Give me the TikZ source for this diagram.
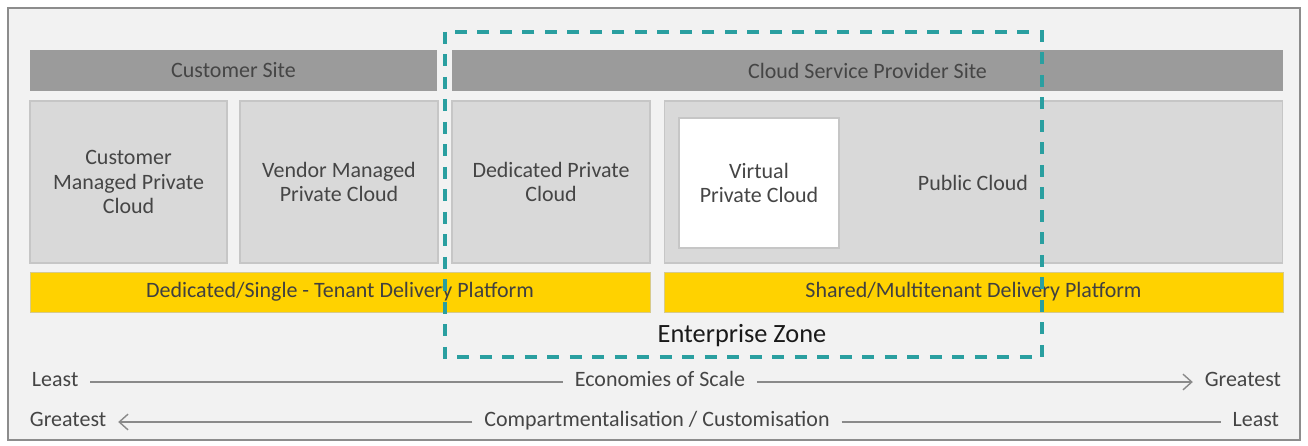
\documentclass[tikz,border=0pt]{standalone}
\usepackage{fontspec}
\setmainfont{Carlito}
\usetikzlibrary{arrows.meta}

\definecolor{framegray}{HTML}{8C8C8C}
\definecolor{paper}{HTML}{F2F2F2}
\definecolor{sitegray}{HTML}{9B9B9B}
\definecolor{boxgray}{HTML}{D9D9D9}
\definecolor{boxline}{HTML}{C6C6C6}
\definecolor{eyyellow}{HTML}{FFD200}
\definecolor{zoneteal}{HTML}{2A9FA0}
\definecolor{inktext}{HTML}{454545}
\definecolor{scaleline}{HTML}{8A8A8A}

\tikzset{
  sitebar/.style={fill=sitegray, draw=none, text=inktext, inner sep=0pt},
  cloudbox/.style={fill=boxgray, draw=boxline, line width=0.6pt, text=inktext,
    align=center, inner sep=0pt},
  vpcbox/.style={fill=white, draw=boxline, line width=0.6pt, text=inktext,
    align=center, inner sep=0pt},
  platform/.style={fill=eyyellow, draw=boxline!70!eyyellow, line width=0.5pt,
    text=black!75, inner sep=0pt},
  zone/.style={draw=zoneteal, line width=1.8pt, dash pattern=on 0.24cm off 0.21cm},
  scaletext/.style={text=inktext, inner sep=0pt, outer sep=0.24cm,
    text height=0.72em, text depth=0.22em},
  scaleaxis/.style={draw=scaleline, line width=0.8pt}
}

\begin{document}
\begin{tikzpicture}[x=0.02cm, y=-0.02cm, font=\fontsize{12.5}{14}\selectfont]

  \useasboundingbox (0,0) rectangle (1308,446);
  \draw[framegray, fill=paper, line width=0.8pt] (8,8) rectangle (1300,440);

  % site headers
  \node[sitebar, minimum width=8.14cm, minimum height=0.82cm] (custsite) at (233.5,70.5) {Customer Site};
  \node[sitebar, minimum width=16.62cm, minimum height=0.82cm] (cspsite) at (867.5,70.5) {Cloud Service Provider Site};

  % deployment models
  \node[cloudbox, minimum width=3.94cm, minimum height=3.24cm] (cmpc) at (128.5,182) {Customer\\Managed Private\\Cloud};
  \node[cloudbox, minimum width=3.96cm, minimum height=3.24cm] (vmpc) at (339,182) {Vendor Managed\\Private Cloud};
  \node[cloudbox, minimum width=3.96cm, minimum height=3.24cm] (dpc) at (551,182) {Dedicated Private\\Cloud};
  \node[cloudbox, minimum width=12.38cm, minimum height=3.24cm] (pubbox) at (973.5,182) {};
  \node[vpcbox, minimum width=3.2cm, minimum height=2.6cm] (vpc) at (759,183) {Virtual\\Private Cloud};
  \node[text=inktext] (pubc) at (973,183) {Public Cloud};

  % delivery platforms
  \node[platform, minimum width=12.4cm, minimum height=0.8cm] (dedplat) at (340,292) {Dedicated/Single - Tenant Delivery Platform};
  \node[platform, minimum width=12.38cm, minimum height=0.8cm] (shrplat) at (973.5,292) {Shared/Multitenant Delivery Platform};

  % enterprise zone
  \draw[zone] (445,32) rectangle (1042,357);
  \node[font=\fontsize{15}{17}\selectfont, text=black!90] (ezone) at (742,336) {Enterprise Zone};

  % scales
  \node[scaletext, anchor=west] (least1) at (20,382) {Least};
  \node[scaletext] (econ) at (660,382) {Economies of Scale};
  \node[scaletext, anchor=east] (great1) at (1293,382) {Greatest};
  \draw[scaleaxis] (least1) -- (econ);
  \draw[scaleaxis, -{Straight Barb[length=5pt, width=9pt]}] (econ) -- (great1);

  \node[scaletext, anchor=west] (great2) at (18,422) {Greatest};
  \node[scaletext] (compart) at (657,422) {Compartmentalisation / Customisation};
  \node[scaletext, anchor=east] (least2) at (1291,422) {Least};
  \draw[scaleaxis, -{Straight Barb[length=5pt, width=9pt]}] (compart) -- (great2);
  \draw[scaleaxis] (compart) -- (least2);

\end{tikzpicture}
\end{document}
